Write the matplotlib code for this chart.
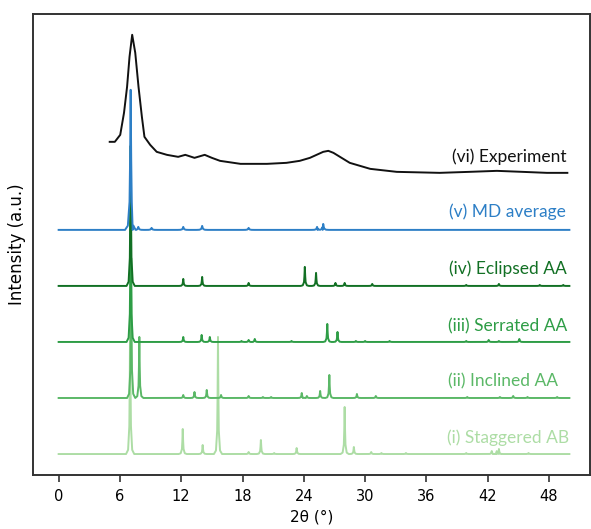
import numpy as np
import matplotlib.pyplot as plt

# --- data (2theta in degrees, intensity in offset a.u.) ---

# experimental curve: (2theta, intensity) points
exp_x = [5.0, 5.5, 6.03, 6.4, 6.7, 6.94, 7.2, 7.5, 7.82, 8.15, 8.4, 8.96, 9.6,
         10.6, 11.7, 12.4, 13.3, 14.3, 15.0, 15.8, 17.8, 20.4, 22.3, 23.6, 24.6,
         25.9, 26.4, 26.9, 28.5, 30.5, 33.1, 37.3, 40.2, 42.9, 45.4, 47.8, 49.8]
exp_y = [333, 333, 340, 362, 388, 418, 440, 422, 388, 358, 338, 330, 323,
         320, 318, 320, 317, 320, 317, 314, 311, 311, 312, 314, 317,
         323, 324, 322, 312, 306, 303, 302, 303, 304, 303, 302, 302]

# simulated patterns: baseline offset + peak positions / heights
md_base = 245
md_pos = [7.05, 7.8, 9.1, 12.2, 14.05, 18.6, 25.3, 25.9]
md_ht = [140, 3, 2, 3, 4, 2, 3, 6]

ecl_base = 189
ecl_pos = [7.05, 12.2, 14.05, 18.6, 24.1, 25.2, 27.1, 28.0, 30.7, 39.9, 43.1, 47.1, 49.4]
ecl_ht = [140, 7, 9, 3, 19, 13, 3, 3, 2, 1, 2, 1, 1]

ser_base = 133
ser_pos = [7.05, 12.2, 14.0, 14.8, 17.9, 18.6, 19.2, 22.8, 26.3, 27.3, 29.1, 30.0,
           32.4, 39.9, 42.1, 43.1, 45.1]
ser_ht = [140, 5, 7, 5, 1, 2, 3, 1, 18, 10, 1, 1, 1, 1, 2, 1, 3]

inc_base = 77
inc_pos = [7.1, 7.9, 12.2, 13.3, 14.5, 15.9, 18.6, 20.0, 20.8, 23.8, 24.3, 25.6,
           26.5, 29.2, 31.05, 40.0, 43.2, 44.5, 45.9, 48.8]
inc_ht = [140, 61, 3, 6, 8, 3, 2, 1, 1, 5, 2, 7, 23, 4, 2, 1, 1, 2, 1, 1]

stg_base = 21
stg_pos = [7.0, 12.15, 14.1, 15.6, 18.6, 19.8, 21.1, 23.3, 28.0, 28.9, 30.6,
           31.6, 34.0, 39.9, 42.4, 42.9, 43.1, 46.0]
stg_ht = [140, 25, 9, 117, 2, 14, 1, 6, 47, 7, 2, 1, 1, 1, 3, 3, 5, 1]

labels = ["(vi) Experiment", "(v) MD average", "(iv) Eclipsed AA",
          "(iii) Serrated AA", "(ii) Inclined AA", "(i) Staggered AB"]
label_y = [318, 263, 206, 149, 94, 37]
label_x = [49.7, 49.7, 49.7, 49.8, 48.9, 50.0]

colors = ["#111111", "#2d7fc6", "#127024", "#2e9d46", "#5bb867", "#addda5"]

x_ticks = [0, 6, 12, 18, 24, 30, 36, 42, 48]


def pattern(base, pos, ht, fwhm, x0=0.0, x1=50.0):
    """stick list -> polyline with a peaked profile around each stick"""
    offs = np.array([-5, -2.5, -1.0, -0.5, 0, 0.5, 1.0, 2.5, 5]) * fwhm
    frac = np.array([0, 0.03, 0.2, 0.5, 1, 0.5, 0.2, 0.03, 0])
    xs, ys = [x0], [base]
    for p, h in sorted(zip(pos, ht)):
        for o, f in zip(offs, frac):
            xs.append(p + o)
            ys.append(base + f * h)
    xs.append(x1)
    ys.append(base)
    xs = np.array(xs)
    ys = np.array(ys)
    order = np.argsort(xs, kind="stable")
    return xs[order], ys[order]


fig = plt.figure(figsize=(5.91, 5.29), dpi=100)
ax = fig.add_axes([0.056, 0.102, 0.942, 0.872])

sim = [
    (stg_base, stg_pos, stg_ht, 0.08, colors[5]),
    (inc_base, inc_pos, inc_ht, 0.08, colors[4]),
    (ser_base, ser_pos, ser_ht, 0.08, colors[3]),
    (ecl_base, ecl_pos, ecl_ht, 0.08, colors[2]),
    (md_base, md_pos, md_ht, 0.11, colors[1]),
]
for base, pos, ht, w, c in sim:
    xs, ys = pattern(base, pos, ht, w)
    ax.plot(xs, ys, color=c, lw=1.4)

ax.plot(exp_x, exp_y, color=colors[0], lw=1.4)

for txt, tx, ty, c in zip(labels, label_x, label_y, colors):
    ax.text(tx, ty, txt, color=c, ha="right", va="center",
            fontsize=12.5, family=["Lato", "DejaVu Sans"])

ax.set_xlim(-2.5, 52)
ax.set_ylim(0, 461)
ax.set_xticks(x_ticks)
ax.set_xticklabels([str(t) for t in x_ticks], fontsize=10.5, family="DejaVu Sans")
ax.set_yticks([])
ax.tick_params(axis="x", direction="out", length=5, width=1.2, color="#333333", pad=5)
for s in ax.spines.values():
    s.set_color("#333333")
    s.set_linewidth(1.4)

ax.set_xlabel("2θ (°)", fontsize=11, family="DejaVu Sans", labelpad=4)
ax.set_ylabel("Intensity (a.u.)", fontsize=12, family="DejaVu Sans", labelpad=5)

fig.savefig("out.png", dpi=100)
